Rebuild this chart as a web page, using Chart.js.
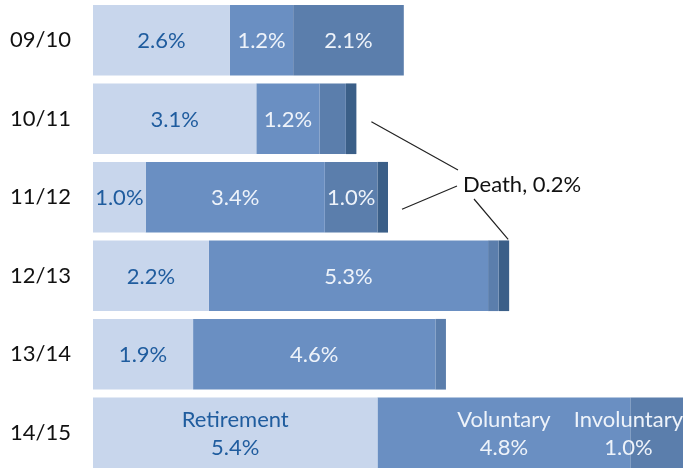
<!DOCTYPE html>
<html>
<head>
<meta charset="utf-8">
<script src="https://cdn.jsdelivr.net/npm/chart.js@4"></script>
<style>
  html, body { margin: 0; padding: 0; background: #ffffff; }
  #wrap { width: 683px; height: 472px; position: relative; }
</style>
</head>
<body>
<div id="wrap"><canvas id="c" width="683" height="472"></canvas></div>
<script>
const categories = ["09/10", "10/11", "11/12", "12/13", "13/14", "14/15"];
const seriesNames = ["Retirement", "Voluntary", "Involuntary", "Death"];
const retirement  = [2.6, 3.1, 1.0, 2.2, 1.9, 5.4];
const voluntary   = [1.2, 1.2, 3.4, 5.3, 4.6, 4.8];
const involuntary = [2.1, 0.5, 1.0, 0.2, 0.2, 1.0];
const death       = [0.0, 0.2, 0.2, 0.2, 0.0, 0.0];
const xMax = 11.2;
const annotationText = "Death, 0.2%";

const fillColors = ["#c8d6ec", "#6a8fc2", "#5b7eac", "#3b5f88"];
const labelColors = ["#1f5c9e", "#eef3fa", "#eef3fa", "#eef3fa"];
const FONT = "Lato, 'Open Sans', sans-serif";

const labelPlugin = {
  id: "segLabels",
  afterDatasetsDraw(chart) {
    const ctx = chart.ctx;
    const area = chart.chartArea;
    ctx.save();
    ctx.font = "22px " + FONT;
    ctx.textBaseline = "middle";
    ctx.textAlign = "center";
    chart.data.datasets.forEach((ds, di) => {
      if (di === 3) return;
      const meta = chart.getDatasetMeta(di);
      meta.data.forEach((bar, i) => {
        const v = ds.data[i];
        if (v < 1.0) return;
        const txt = v.toFixed(1) + "%";
        const left = Math.min(bar.x, bar.base);
        const right = Math.min(Math.max(bar.x, bar.base), area.right);
        let cx = (left + right) / 2;
        ctx.fillStyle = labelColors[di];
        if (i === categories.length - 1) {
          const name = seriesNames[di];
          const w = Math.max(ctx.measureText(name).width, ctx.measureText(txt).width);
          if (cx + w / 2 > area.right) cx = area.right - w / 2;
          ctx.fillText(name, cx, bar.y - 13);
          ctx.fillText(txt, cx, bar.y + 15);
        } else {
          ctx.fillText(txt, cx, bar.y + 1);
        }
      });
    });
    // Death annotation
    const deathMeta = chart.getDatasetMeta(3);
    const b1 = deathMeta.data[1], b2 = deathMeta.data[2], b3 = deathMeta.data[3];
    const tx = 463, ty = 185;
    ctx.fillStyle = "#111111";
    ctx.textAlign = "left";
    ctx.fillText(annotationText, tx, ty);
    ctx.strokeStyle = "#222222";
    ctx.lineWidth = 1.2;
    ctx.beginPath();
    ctx.moveTo(b1.x + 15, b1.y + 3);
    ctx.lineTo(tx - 5, ty - 15);
    ctx.moveTo(b2.x + 14, b2.y + 12);
    ctx.lineTo(tx - 6, ty + 1);
    ctx.moveTo(tx + 11, ty + 14);
    ctx.lineTo(b3.x - 1, b3.y - b3.height / 2 - 1);
    ctx.stroke();
    ctx.restore();
  }
};

const data = {
  labels: categories,
  datasets: [retirement, voluntary, involuntary, death].map((arr, k) => ({
    label: seriesNames[k],
    data: arr,
    backgroundColor: fillColors[k],
    borderWidth: 0,
    barPercentage: 0.9,
    categoryPercentage: 1.0
  }))
};

new Chart(document.getElementById("c"), {
  type: "bar",
  data: data,
  plugins: [labelPlugin],
  options: {
    indexAxis: "y",
    responsive: false,
    animation: false,
    layout: { padding: { top: 1, right: 0, bottom: 0, left: 0 } },
    plugins: { legend: { display: false }, tooltip: { enabled: false } },
    scales: {
      x: { stacked: true, min: 0, max: xMax, display: false },
      y: {
        stacked: true,
        grid: { display: false, drawTicks: false },
        border: { display: false },
        ticks: { color: "#111111", font: { family: FONT, size: 22 }, padding: 22 },
        afterFit(s) { s.width = 93; s.paddingTop = 0; s.paddingBottom = 0; }
      }
    }
  }
});
</script>
</body>
</html>
